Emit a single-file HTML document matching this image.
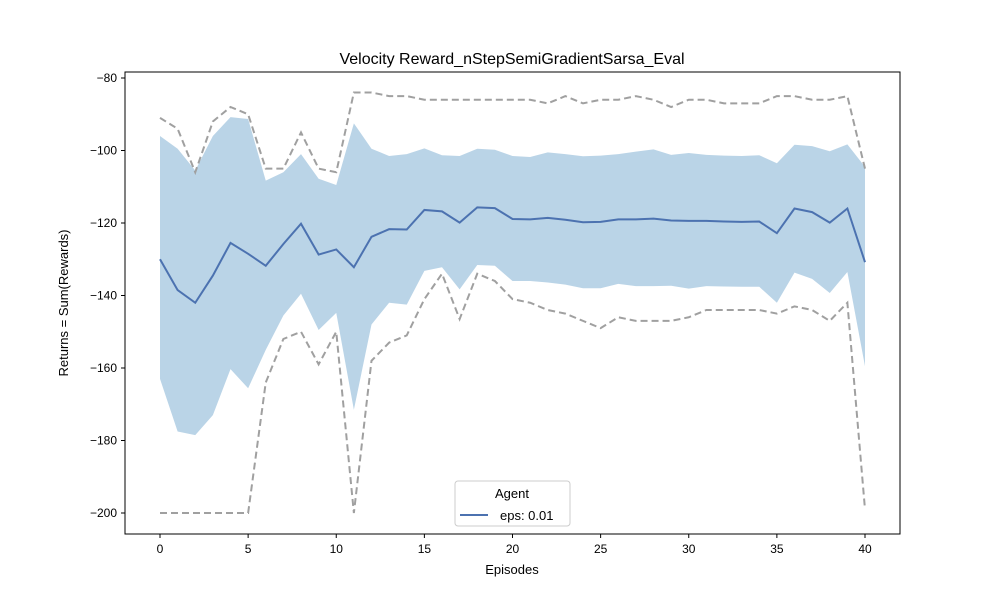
<!DOCTYPE html>
<html><head><meta charset="utf-8"><style>body{margin:0;background:#fff}svg text{font-family:"Liberation Sans","DejaVu Sans",sans-serif}</style></head>
<body>
<svg id="chart" width="1000" height="600" xmlns="http://www.w3.org/2000/svg">
<rect width="1000" height="600" fill="#fff"/>
<text x="512" y="64" text-anchor="middle" font-size="16">Velocity Reward_nStepSemiGradientSarsa_Eval</text>
<g id="plot"></g>
<rect x="125" y="72" width="775" height="462" fill="none" stroke="#000" stroke-width="1"/>
<text x="512" y="574" text-anchor="middle" font-size="13">Episodes</text>
<text transform="translate(68,303) rotate(-90)" text-anchor="middle" font-size="13">Returns = Sum(Rewards)</text>
<g>
<rect x="455" y="481" width="115" height="45" rx="3" fill="#fff" stroke="#ccc"/>
<text x="512" y="498" text-anchor="middle" font-size="13">Agent</text>
<line x1="460" y1="515" x2="488" y2="515" stroke="#4c72b0" stroke-width="2"/>
<text x="500" y="520" font-size="13">eps: 0.01</text>
</g>
</svg>
<script>
const episodes = Array.from({length:41},(_,i)=>i);
const meanValues = [-130,-138.5,-142,-134.5,-125.5,-128.5,-131.8,-125.8,-120.2,-128.7,-127.3,-132.2,-123.8,-121.7,-121.8,-116.4,-116.8,-119.9,-115.7,-115.9,-118.9,-119,-118.6,-119.1,-119.8,-119.7,-119,-119,-118.8,-119.3,-119.4,-119.4,-119.6,-119.7,-119.6,-122.8,-116,-117,-119.9,-116,-130.8];
const upperBand = [-96,-99.5,-105.5,-96,-90.8,-91.3,-108.3,-106,-101,-107.8,-109.5,-92.5,-99.5,-101.5,-101,-99.4,-101.3,-101.5,-99.5,-99.8,-101.5,-101.8,-100.5,-101,-101.6,-101.4,-101,-100.3,-99.7,-101.2,-100.7,-101.2,-101.4,-101.5,-101.3,-103.5,-98.4,-98.8,-100.2,-98.3,-104.5];
const lowerBand = [-163,-177.5,-178.5,-173,-160.3,-165.6,-155,-145.5,-139.5,-149.5,-144.8,-171.5,-148,-142,-142.5,-133.2,-132.2,-138.3,-131.6,-131.8,-136,-136,-136.4,-137,-138,-138,-136.8,-137.4,-137.4,-137.3,-138.1,-137.4,-137.5,-137.6,-137.6,-142,-133.7,-135.4,-139.3,-133.5,-159.5];
const maxValues = [-91,-94,-106,-92,-88,-90,-105,-105,-95,-105,-106,-84,-84,-85,-85,-86,-86,-86,-86,-86,-86,-86,-87,-85,-87,-86,-86,-85,-86,-88,-86,-86,-87,-87,-87,-85,-85,-86,-86,-85,-105];
const minValues = [-200,-200,-200,-200,-200,-200,-164,-152,-150,-159,-150,-200,-158,-153,-151,-141,-134,-146.5,-134,-136,-141,-142,-144,-145,-147,-149,-146,-147,-147,-147,-146,-144,-144,-144,-144,-145,-143,-144,-147,-142,-199];
const xTicks = [0,5,10,15,20,25,30,35,40];
const yTicks = [-80,-100,-120,-140,-160,-180,-200];

const NS="http://www.w3.org/2000/svg";
const xS = v => 160 + v*(865-160)/40;
const yS = v => 78 + (-80 - v)*(513-78)/120;
const plot=document.getElementById('plot');
function mk(tag,attrs){const e=document.createElementNS(NS,tag);for(const k in attrs)e.setAttribute(k,attrs[k]);return e;}

let d='M'+episodes.map((e,i)=>xS(e)+','+yS(upperBand[i])).join('L');
for(let i=episodes.length-1;i>=0;i--) d+='L'+xS(episodes[i])+','+yS(lowerBand[i]);
const band=mk('path',{d:d+'Z',fill:'#bad4e7'});


plot.appendChild(band);

function line(vals,name,attrs){
  const p=mk('polyline',Object.assign({points:episodes.map((e,i)=>xS(e)+','+yS(vals[i])).join(' '),fill:'none'},attrs));
  
  
  plot.appendChild(p);
}
line(maxValues,'max-line',{stroke:'#a0a0a0','stroke-width':2,'stroke-dasharray':'7,4'});
line(minValues,'min-line',{stroke:'#a0a0a0','stroke-width':2,'stroke-dasharray':'7,4'});
line(meanValues,'mean-line',{stroke:'#4c72b0','stroke-width':2});

xTicks.forEach(t=>{
  const l=mk('line',{x1:xS(t),x2:xS(t),y1:534,y2:538,stroke:'#000'});
  
  
  plot.appendChild(l);
  const tx=mk('text',{x:xS(t),y:553,'text-anchor':'middle','font-size':12});
  
  
  tx.textContent=t;plot.appendChild(tx);
});
yTicks.forEach(t=>{
  const l=mk('line',{x1:121,x2:125,y1:yS(t),y2:yS(t),stroke:'#000'});
  
  
  plot.appendChild(l);
  const tx=mk('text',{x:117,y:yS(t)+4,'text-anchor':'end','font-size':12});
  
  
  tx.textContent='\u2212'+Math.abs(t);plot.appendChild(tx);
});
</script>
</body></html>
